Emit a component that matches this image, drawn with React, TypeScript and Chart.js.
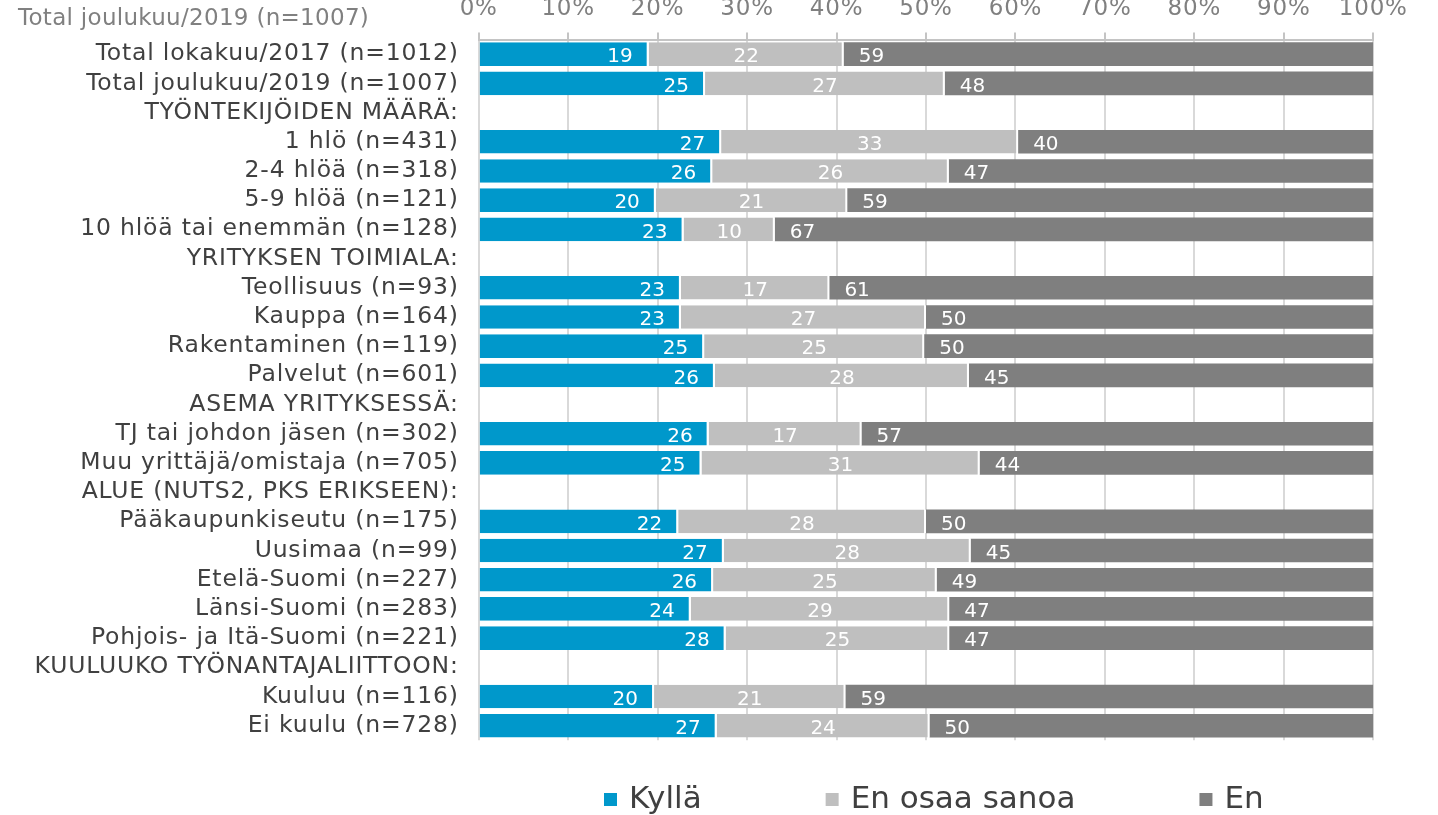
import React, { useEffect, useRef } from 'react';
import { Chart, registerables } from 'chart.js';

Chart.register(...registerables);

const titleText = 'Total joulukuu/2019 (n=1007)';

const categories = [
  'Total lokakuu/2017 (n=1012)',
  'Total joulukuu/2019 (n=1007)',
  'TYÖNTEKIJÖIDEN MÄÄRÄ:',
  '1 hlö (n=431)',
  '2-4 hlöä (n=318)',
  '5-9 hlöä (n=121)',
  '10 hlöä tai enemmän (n=128)',
  'YRITYKSEN TOIMIALA:',
  'Teollisuus (n=93)',
  'Kauppa (n=164)',
  'Rakentaminen (n=119)',
  'Palvelut (n=601)',
  'ASEMA YRITYKSESSÄ:',
  'TJ tai johdon jäsen (n=302)',
  'Muu yrittäjä/omistaja (n=705)',
  'ALUE (NUTS2, PKS ERIKSEEN):',
  'Pääkaupunkiseutu (n=175)',
  'Uusimaa (n=99)',
  'Etelä-Suomi (n=227)',
  'Länsi-Suomi (n=283)',
  'Pohjois- ja Itä-Suomi (n=221)',
  'KUULUUKO TYÖNANTAJALIITTOON:',
  'Kuuluu (n=116)',
  'Ei kuulu (n=728)',
];

const kylla = [19.0, 25.3, null, 27.1, 26.1, 19.8, 22.9, null, 22.6, 22.6, 25.2, 26.4, null, 25.7, 24.9, null, 22.3, 27.4, 26.2, 23.7, 27.6, null, 19.6, 26.6];
const enOsaaSanoa = [21.8, 26.8, null, 33.2, 26.45, 21.4, 10.2, null, 16.6, 27.4, 24.6, 28.4, null, 17.1, 31.1, null, 27.7, 27.6, 25.0, 28.9, 25.0, null, 21.4, 23.8];
const en = [59.2, 47.9, null, 39.7, 47.45, 58.8, 66.9, null, 60.8, 50.0, 50.2, 45.2, null, 57.2, 44.0, null, 50.0, 45.0, 48.8, 47.4, 47.4, null, 59.0, 49.6];

const seriesNames = ['Kyllä', 'En osaa sanoa', 'En'];
const seriesColors = ['#0098cb', '#bfbfbf', '#7f7f7f'];

const FONT = '"DejaVu Sans", Verdana, sans-serif';

const spacingPlugin = {
  id: 'spacing',
  beforeDraw(chart: any) {
    (chart.ctx as any).letterSpacing = '0.8px';
  },
};

const titlePlugin = {
  id: 'cornerTitle',
  afterDraw(chart: any) {
    const ctx = chart.ctx;
    ctx.save();
    (ctx as any).letterSpacing = '0.3px';
    ctx.font = `23px ${FONT}`;
    ctx.fillStyle = '#808080';
    ctx.textAlign = 'left';
    ctx.textBaseline = 'middle';
    ctx.fillText(titleText, 18, 19);
    ctx.restore();
  },
};

const valueLabels = {
  id: 'valueLabels',
  afterDatasetsDraw(chart: any) {
    const ctx = chart.ctx;
    ctx.save();
    (ctx as any).letterSpacing = '0px';
    ctx.font = `20px ${FONT}`;
    ctx.fillStyle = '#ffffff';
    ctx.textBaseline = 'middle';
    chart.data.datasets.forEach((ds: any, di: number) => {
      const meta = chart.getDatasetMeta(di);
      meta.data.forEach((el: any, i: number) => {
        const v = ds.data[i];
        if (v == null) return;
        const { x, base, y } = el.getProps(['x', 'base', 'y'], true);
        const text = String(Math.round(v));
        let tx: number;
        if (di === 0) {
          ctx.textAlign = 'right';
          tx = x - 16;
        } else if (di === 1) {
          ctx.textAlign = 'center';
          tx = (x + base) / 2;
        } else {
          ctx.textAlign = 'left';
          tx = base + 15;
        }
        ctx.fillText(text, tx, y + 3);
      });
    });
    ctx.restore();
  },
};

const bottomLegend = {
  id: 'bottomLegend',
  afterDraw(chart: any) {
    const ctx = chart.ctx;
    ctx.save();
    (ctx as any).letterSpacing = '0px';
    ctx.font = `31px ${FONT}`;
    ctx.textBaseline = 'middle';
    ctx.textAlign = 'left';
    let x = 604;
    const y = 800;
    chart.data.datasets.forEach((ds: any) => {
      ctx.fillStyle = ds.backgroundColor;
      ctx.fillRect(x, y - 7, 13, 13);
      ctx.fillStyle = '#404040';
      ctx.fillText(ds.label, x + 25, y);
      x += 25 + ctx.measureText(ds.label).width + 124;
    });
    ctx.restore();
  },
};

export default function App() {
  const ref = useRef<HTMLCanvasElement | null>(null);

  useEffect(() => {
    if (!ref.current) return;
    const seriesData = [kylla, enOsaaSanoa, en];
    const chart = new Chart(ref.current, {
      type: 'bar',
      data: {
        labels: categories,
        datasets: seriesNames.map((name, i) => ({
          label: name,
          data: seriesData[i],
          backgroundColor: seriesColors[i],
          borderColor: '#ffffff',
          borderWidth: i < 2 ? { top: 0, bottom: 0, left: 0, right: 2 } : 0,
          borderSkipped: false,
          barPercentage: 0.81,
          categoryPercentage: 1,
        })),
      },
      options: {
        indexAxis: 'y',
        responsive: false,
        animation: false,
        devicePixelRatio: 1,
        layout: { padding: { left: 0, right: 64.7, top: 0, bottom: 74.7 } },
        plugins: {
          legend: { display: false },
          tooltip: { enabled: false },
          title: { display: false },
        },
        scales: {
          x: {
            position: 'top',
            stacked: true,
            min: 0,
            max: 100,
            ticks: {
              stepSize: 10,
              callback: (v: any) => v + '%',
              color: '#808080',
              font: { family: FONT, size: 23 },
              padding: 10,
              maxRotation: 0,
              autoSkip: false,
            },
            grid: { color: '#d9d9d9', lineWidth: 2, tickLength: 7, tickColor: '#c4c4c4', drawTicks: true },
            border: { display: true, color: '#c4c4c4', width: 2 },
            afterFit: (s: any) => {
              s.height = 39.6;
            },
          },
          y: {
            stacked: true,
            ticks: {
              color: '#404040',
              font: { family: FONT, size: 23.5 },
              padding: 20,
              autoSkip: false,
            },
            grid: { display: false, drawTicks: false },
            border: { display: false },
            afterFit: (s: any) => {
              s.width = 478.7;
            },
          },
        },
      } as any,
      plugins: [spacingPlugin, valueLabels, titlePlugin, bottomLegend],
    });
    return () => chart.destroy();
  }, []);

  return (
    <div style={{ position: 'fixed', left: 0, top: 0, width: 1438, height: 815, background: '#ffffff' }}>
      <canvas ref={ref} width={1438} height={815} style={{ display: 'block', width: 1438, height: 815 }} />
    </div>
  );
}
